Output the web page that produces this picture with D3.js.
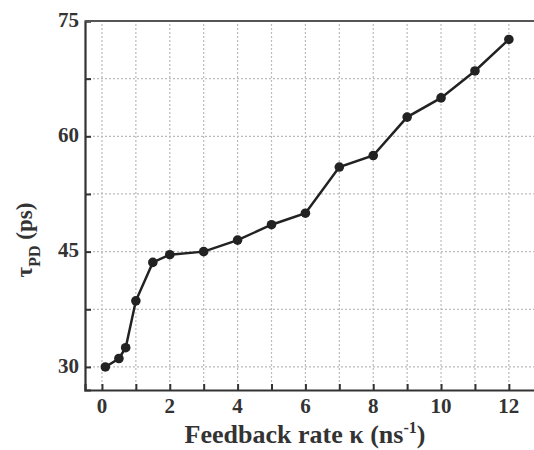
<!DOCTYPE html>
<html>
<head>
<meta charset="utf-8">
<script src="https://cdn.jsdelivr.net/npm/d3@7"></script>
<style>
  body { margin: 0; background: #fff; }
</style>
</head>
<body>
<div id="container"><svg></svg></div>
<script>
const WIDTH = 534;
const HEIGHT = 450;
const FONT = "'Liberation Serif', 'Times New Roman', Times, serif";

// feedback rate kappa (ns^-1)
const kappa = [0.1, 0.5, 0.7, 1, 1.5, 2, 3, 4, 5, 6, 7, 8, 9, 10, 11, 12];
// tau_PD (ps)
const tau = [30, 31.1, 32.5, 38.6, 43.6, 44.6, 45, 46.5, 48.5, 50, 56, 57.5, 62.5, 65, 68.5, 72.6];

const x_ticks = [0, 2, 4, 6, 8, 10, 12];
const x_grid = d3.range(0, 13, 1);
const y_ticks = [30, 45, 60, 75];
const y_grid = [30, 37.5, 45, 52.5, 60, 67.5];

const margin = {left: 85, top: 21, right: -2, bottom: 60};

const svg = d3.select('#container').select('svg')
    .attr('width', WIDTH)
    .attr('height', HEIGHT)
    .style('font-family', FONT)
    .style('font-weight', 'bold');

const x = d3.scaleLinear()
    .domain([-0.5, 12.8])
    .range([margin.left, WIDTH - margin.right]);
const y = d3.scaleLinear()
    .domain([27, 75])
    .range([HEIGHT - margin.bottom, margin.top]);

// dotted grid
let grid = svg.append('g').attr('id', 'grid')
    .attr('stroke', '#bbb')
    .attr('stroke-width', 1.2)
    .attr('stroke-dasharray', '2,2');
grid.selectAll('line.v').data(x_grid).enter().append('line')
    .attr('x1', d => x(d)).attr('x2', d => x(d))
    .attr('y1', y(27)).attr('y2', y(75));
grid.selectAll('line.h').data(y_grid).enter().append('line')
    .attr('x1', x(-0.5)).attr('x2', x(12.8))
    .attr('y1', d => y(d)).attr('y2', d => y(d));

// axes (ticks inside)
let x_axis = svg.append('g')
    .attr('transform', `translate(0, ${y(27)})`)
    .call(d3.axisBottom(x).tickValues(x_grid).tickSize(-6).tickFormat(''));
let y_axis = svg.append('g')
    .attr('transform', `translate(${x(-0.5)}, 0)`)
    .call(d3.axisLeft(y).tickValues(y_grid.concat([75])).tickSize(-6).tickFormat(''));
[x_axis, y_axis].forEach(a => {
    a.select('.domain').attr('stroke', '#333').attr('stroke-width', 2.2);
    a.selectAll('.tick line').attr('stroke', '#333').attr('stroke-width', 2);
});

// top border
svg.append('line')
    .attr('x1', x(-0.5)).attr('x2', x(12.8))
    .attr('y1', y(75)).attr('y2', y(75))
    .attr('stroke', '#555').attr('stroke-width', 2);

// tick labels
svg.append('g').selectAll('text').data(x_ticks).enter().append('text')
    .attr('x', d => x(d))
    .attr('y', y(27) + 18)
    .attr('text-anchor', 'middle')
    .attr('dominant-baseline', 'middle')
    .attr('font-size', 21)
    .attr('fill', '#333')
    .text(d => d);
svg.append('g').selectAll('text').data(y_ticks).enter().append('text')
    .attr('x', x(-0.5) - 6)
    .attr('y', d => y(d) + 1)
    .attr('text-anchor', 'end')
    .attr('dominant-baseline', 'middle')
    .attr('font-size', 21)
    .attr('fill', '#333')
    .text(d => d);

// axis titles
let xt = svg.append('text')
    .attr('x', 305)
    .attr('y', 443)
    .attr('text-anchor', 'middle')
    .attr('font-size', 26)
    .attr('fill', '#333');
xt.append('tspan').text('Feedback rate \u03ba (ns');
xt.append('tspan').attr('dy', -10).attr('font-size', 16).text('-1');
xt.append('tspan').attr('dy', 10).text(')');

let yt = svg.append('text')
    .attr('transform', 'translate(32, 240) rotate(-90)')
    .attr('text-anchor', 'middle')
    .attr('font-size', 23)
    .attr('fill', '#333');
yt.append('tspan').text('\u03c4');
yt.append('tspan').attr('dy', 8).attr('font-size', 16).text('PD');
yt.append('tspan').attr('dy', -8).text(' (ps)');

// data line and markers
const pts = kappa.map((k, i) => [k, tau[i]]);
svg.append('path')
    .datum(pts)
    .attr('fill', 'none')
    .attr('stroke', '#222')
    .attr('stroke-width', 2.5)
    .attr('d', d3.line().x(d => x(d[0])).y(d => y(d[1])));
svg.append('g').selectAll('circle').data(pts).enter().append('circle')
    .attr('cx', d => x(d[0]))
    .attr('cy', d => y(d[1]))
    .attr('r', 4.8)
    .attr('fill', '#222');
</script>
</body>
</html>
